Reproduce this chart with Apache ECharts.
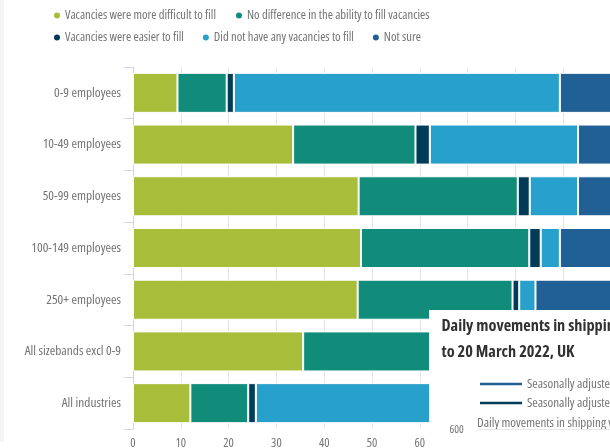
<!DOCTYPE html><html><head><meta charset="utf-8"><script src="https://cdn.jsdelivr.net/npm/echarts@6/dist/echarts.min.js"></script>
<style>html,body{margin:0;padding:0;background:#fff}#c{width:610px;height:448px}</style></head><body><div id="c"></div><script>
// ---- data ----
const categories = ["0-9 employees","10-49 employees","50-99 employees","100-149 employees","250+ employees","All sizebands excl 0-9","All industries"];
const seriesNames = ["Vacancies were more difficult to fill","No difference in the ability to fill vacancies","Vacancies were easier to fill","Did not have any vacancies to fill","Not sure"];
const moreDifficult = [9.3, 33.5, 47.2, 47.7, 47.0, 35.6, 12.0];
const noDifference  = [10.3, 25.6, 33.3, 35.2, 32.4, 27.5, 12.1];
const easier        = [1.5, 3.0, 2.5, 2.4, 1.4, 2.9, 1.6];
const noVacancies   = [68.2, 31.0, 10.1, 4.0, 3.4, 27.0, 64.0];
const notSure       = [10.7, 6.9, 6.9, 10.7, 15.8, 7.0, 10.3];
const xTicks = [0,10,20,30,40,50,60,70,80,90,100];
const overlayTitle1 = "Daily movements in shipping visits, UK, 1 July 2019";
const overlayTitle2 = "to 20 March 2022, UK";
const overlayLegend = ["Seasonally adjusted daily shipping visits","Seasonally adjusted cargo and tanker visits"];
const overlayAxisTitle = "Daily movements in shipping visits";
const overlayTick = "600";

// ---- style ----
const colors = ['#a8bd3a','#118c7b','#003c57','#27a0cc','#206095'];
const FAM = "Open Sans";
const mctx = document.createElement('canvas').getContext('2d');
function fit(text, pre, target){ mctx.font = pre + " 100px '" + FAM + "'"; return +(100*target/mctx.measureText(text).width).toFixed(2); }
const legendSize = fit(seriesNames[0], 'semi-condensed', 151);
const catSize = fit(categories[1], 'semi-condensed', 78.4);
const tickSize = fit('10', 'semi-condensed', 10.6);
const titleSize = fit(overlayTitle2, 'bold semi-condensed', 133);
const olSize = fit(overlayAxisTitle.slice(0,27), 'semi-condensed', 129);
const olTickSize = fit(overlayTick, 'semi-condensed', 14.3);
const txtGrey = '#747475';

const data = [moreDifficult, noDifference, easier, noVacancies, notSure];
const series = data.map((d,i)=>({
  name: seriesNames[i], type:'bar', stack:'total', data:d,
  barCategoryGap:'22.6%',
  itemStyle:{color:colors[i], borderColor:'#ffffff', borderWidth:1},
  emphasis:{disabled:true}
}));
const legendText = {color:txtGrey, fontSize:legendSize, fontFamily:FAM, fontWeight:'semi-condensed', padding:[0,0,0,-1]};
const chart = echarts.init(document.getElementById('c'), null, {renderer:'canvas'});
chart.setOption({
  animation:false,
  backgroundColor:'#ffffff',
  legend:[
    {data:seriesNames.slice(0,2), left:52, top:9, icon:'circle', itemWidth:8, itemHeight:8, itemGap:18, textStyle:legendText, selectedMode:false, padding:0},
    {data:seriesNames.slice(2), left:52, top:31, icon:'circle', itemWidth:8, itemHeight:8, itemGap:17, textStyle:legendText, selectedMode:false, padding:0}
  ],
  grid:{left:133, top:67, width:478, height:362, containLabel:false, outerBoundsMode:'none'},
  xAxis:{type:'value', min:0, max:100, interval:10,
    axisLine:{show:false}, axisTick:{show:false},
    splitLine:{show:true, lineStyle:{color:'#e6e6e6', width:1}},
    axisLabel:{color:txtGrey, fontSize:tickSize, fontFamily:FAM, fontWeight:'semi-condensed', margin:8,
      formatter:v=>xTicks.includes(v)?String(v):''}},
  yAxis:{type:'category', inverse:true, data:categories,
    axisLine:{show:true, lineStyle:{color:'#ccd6eb', width:1}},
    axisTick:{show:true, length:9, lineStyle:{color:'#ccd6eb'}},
    axisLabel:{color:txtGrey, fontSize:catSize, fontFamily:FAM, fontWeight:'semi-condensed', margin:12}},
  series: series,
  graphic:[
    {type:'rect', z:100, shape:{x:0,y:0,width:4,height:442}, style:{fill:'#f4f4f5'}},
    {type:'rect', z:100, shape:{x:429,y:310,width:200,height:150}, style:{fill:'#ffffff'}},
    {type:'text', z:101, x:441.5, y:326, style:{text:overlayTitle1, font:"bold semi-condensed "+titleSize+"px '"+FAM+"'", fill:'#323132', verticalAlign:'middle'}},
    {type:'text', z:101, x:441.5, y:352.5, style:{text:overlayTitle2, font:"bold semi-condensed "+titleSize+"px '"+FAM+"'", fill:'#323132', verticalAlign:'middle'}},
    {type:'line', z:101, shape:{x1:480,y1:384,x2:522,y2:384}, style:{stroke:'#206095', lineWidth:2.5}},
    {type:'line', z:101, shape:{x1:480,y1:403,x2:522,y2:403}, style:{stroke:'#003c57', lineWidth:2.5}},
    {type:'text', z:101, x:527, y:384, style:{text:overlayLegend[0], font:"semi-condensed "+olSize+"px '"+FAM+"'", fill:txtGrey, verticalAlign:'middle'}},
    {type:'text', z:101, x:527, y:403, style:{text:overlayLegend[1], font:"semi-condensed "+olSize+"px '"+FAM+"'", fill:txtGrey, verticalAlign:'middle'}},
    {type:'text', z:101, x:477, y:423, style:{text:overlayAxisTitle, font:"semi-condensed "+olSize+"px '"+FAM+"'", fill:txtGrey, verticalAlign:'middle'}},
    {type:'line', z:101, shape:{x1:477,y1:429.5,x2:610,y2:429.5}, style:{stroke:'#e6e6e6', lineWidth:1}},
    {type:'text', z:101, x:449.5, y:430, style:{text:overlayTick, font:"semi-condensed "+olTickSize+"px '"+FAM+"'", fill:txtGrey, verticalAlign:'middle'}}
  ]
});
</script></body></html>
